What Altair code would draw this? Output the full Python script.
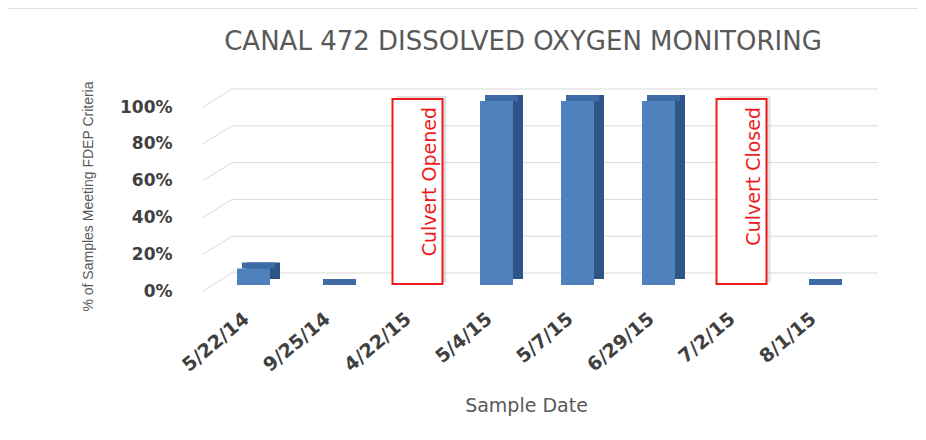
import altair as alt
import pandas as pd

# ---- data ----
dates = ["5/22/14", "9/25/14", "4/22/15", "5/4/15", "5/7/15", "6/29/15", "7/2/15", "8/1/15"]
pct_meeting = [0.09, 0.0, None, 1.0, 1.0, 1.0, None, 0.0]
event_dates = ["4/22/15", "7/2/15"]
event_labels = ["Culvert Opened", "Culvert Closed"]
event_top = [1.0, 1.0]
event_bottom = [0.0, 0.0]
y_ticks = [0.0, 0.2, 0.4, 0.6, 0.8, 1.0]
title_text = "CANAL 472 DISSOLVED OXYGEN MONITORING"
x_title = "Sample Date"
y_title = "% of Samples Meeting FDEP Criteria"

W, H = 648, 184
FRONT = "#4F81BD"
SIDE = "#2F5487"
TOP = "#3E6AA6"
RED = "#EE1C1C"
GRID = "#D9D9D9"
TXT = "#595959"

bars_df = pd.DataFrame({"date": dates, "pct": pct_meeting}).dropna()
events_df = pd.DataFrame({"date": event_dates, "label": event_labels,
                          "top": event_top, "bottom": event_bottom})
grid_df = pd.DataFrame({"v": y_ticks})
one_df = pd.DataFrame({"k": [0]})

xs = alt.Scale(domain=dates, paddingInner=0, paddingOuter=0)
ys = alt.Scale(domain=[0, 1], nice=False, zero=True)

x_axis = alt.Axis(
    labelAngle=320, labelAlign="right", labelBaseline="middle",
    labelOffset=-7, labelPadding=25, labelFont="DejaVu Sans",
    labelFontWeight="bold", labelFontSize=19, labelColor="#404040",
    domain=False, ticks=False, grid=False,
    title=x_title, titleFont="DejaVu Sans", titleFontWeight="normal",
    titleFontSize=19, titleColor=TXT, titleX=313, titleY=114,
    titleAlign="center", titleBaseline="middle", titleAngle=0,
)
y_axis = alt.Axis(
    values=y_ticks, format=".0%", labelFont="DejaVu Sans",
    labelFontWeight="bold", labelFontSize=17, labelColor="#404040",
    labelPadding=41, domain=False, ticks=False, grid=False,
    title=y_title, titleFont="Liberation Sans", titleFontWeight="normal",
    titleFontSize=14, titleColor=TXT, titleX=-125, titleY=89,
    titleAlign="center", titleBaseline="middle", titleAngle=270,
)


def xe():
    return alt.X("date:N", scale=xs, axis=x_axis)


def ye(field):
    return alt.Y(field, scale=ys, axis=y_axis)


# perspective gridlines
grid_slant = alt.Chart(grid_df).mark_rule(color=GRID, strokeWidth=1, y2Offset=-18).encode(
    x=alt.value(-10), x2=alt.value(19),
    y=ye("v:Q"), y2=alt.Y2("v:Q"),
)
grid_back = alt.Chart(grid_df).mark_rule(color=GRID, strokeWidth=1, yOffset=-18).encode(
    x=alt.value(19), x2=alt.value(665),
    y=ye("v:Q"),
)

# pseudo-3D bars
bar_side = alt.Chart(bars_df).mark_bar(width=33, color=SIDE, xOffset=10, yOffset=-12, y2Offset=-13).encode(
    x=xe(), y=ye("pct:Q"),
)
bar_top = alt.Chart(bars_df).mark_bar(width=33, color=TOP, xOffset=5, yOffset=-12, y2Offset=-6).encode(
    x=xe(), y=ye("pct:Q"), y2=alt.Y2("pct:Q"),
)
bar_front = alt.Chart(bars_df).mark_bar(width=33, color=FRONT, yOffset=-6, y2Offset=-7).encode(
    x=xe(), y=ye("pct:Q"),
)

# annotation boxes
box_shadow = alt.Chart(events_df).mark_bar(width=50, color="#BDBDBD", opacity=0.45,
                                           xOffset=6, yOffset=-11, y2Offset=-9).encode(
    x=xe(), y=ye("top:Q"), y2=alt.Y2("bottom:Q"),
)
box = alt.Chart(events_df).mark_bar(width=50, fill="white", stroke=RED, strokeWidth=2,
                                    xOffset=2, yOffset=-8, y2Offset=-7).encode(
    x=xe(), y=ye("top:Q"), y2=alt.Y2("bottom:Q"),
)
box_text = alt.Chart(events_df).mark_text(angle=270, align="right", baseline="middle",
                                          dy=14, font="DejaVu Sans", fontSize=19,
                                          color=RED).encode(
    x=xe(), y=ye("top:Q"), text="label:N",
)

# chart title and outer frame
title_mark = alt.Chart(one_df).mark_text(text=title_text, font="DejaVu Sans", fontSize=26,
                                         color=TXT, align="center", baseline="alphabetic").encode(
    x=alt.value(310), y=alt.value(-57),
)
frame_top = alt.Chart(one_df).mark_rule(color=GRID, strokeWidth=1.5).encode(
    x=alt.value(-206), x2=alt.value(713), y=alt.value(-99),
)
frame_left = alt.Chart(one_df).mark_rule(color=GRID, strokeWidth=1.5).encode(
    x=alt.value(-206), y=alt.value(-99), y2=alt.value(333),
)

chart = alt.layer(
    frame_top, frame_left, title_mark,
    grid_slant, grid_back,
    bar_side, bar_top, bar_front,
    box_shadow, box, box_text,
).properties(
    width=W, height=H,
    autosize=alt.AutoSizeParams(type="none"),
    padding={"left": 205, "top": 99, "right": 57, "bottom": 141},
    background="white",
).configure_view(stroke=None)

chart.save("out.html", embed_options={"renderer": "svg", "actions": False})
